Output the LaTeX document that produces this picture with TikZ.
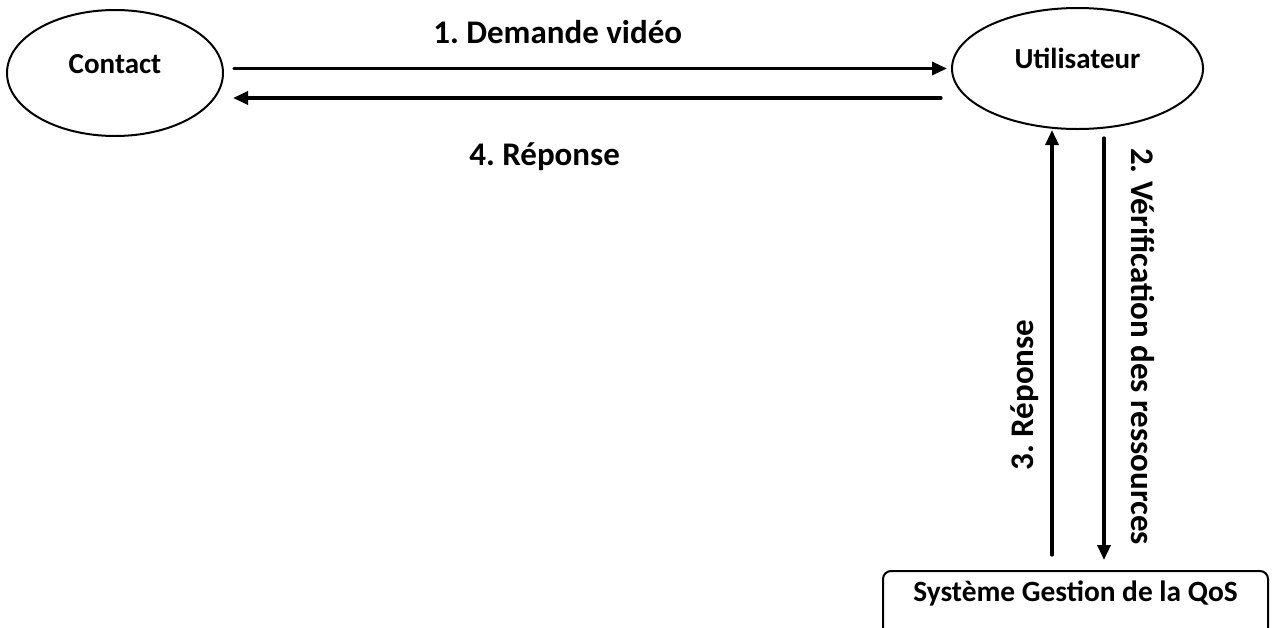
\documentclass[tikz,border=0pt]{standalone}
\usepackage{fontspec}
\setmainfont{Carlito}
\usetikzlibrary{arrows.meta,shapes.geometric}
\frenchspacing

\begin{document}
\begin{tikzpicture}
[x=0.5pt,y=-0.5pt,line cap=round,
% Styles
actor/.style={ellipse,draw,line width=1pt,font=\fontsize{14.5}{17}\selectfont\bfseries,
  text height=10pt,text depth=10pt},
system/.style={rectangle,rounded corners=4pt,draw,line width=1pt,
  font=\fontsize{14.7}{17}\selectfont\bfseries,text height=11pt,text depth=17pt,inner ysep=2pt},
flow/.style={line width=1.6pt,-{Triangle[length=7.5pt,width=6.5pt]}},
step label/.style={font=\fontsize{16.5}{19}\selectfont\bfseries,anchor=base,inner sep=0pt}]

% Frame
\useasboundingbox (0,0) rectangle (1273,627);

% The graphic
\node[actor,minimum width=108pt,minimum height=63pt] (contact) at (115,73) {Contact};
\node[actor,minimum width=125.5pt,minimum height=60.5pt] (util) at (1077.5,68.5) {Utilisateur};
\node[system,minimum width=192.5pt,minimum height=36pt,anchor=north] (qos) at (1075.5,570)
  {Système Gestion de la QoS};

\coordinate (down) at ([xshift=14.25pt]qos.north);
\coordinate (up) at ([xshift=-11.75pt]qos.north);
\coordinate (back) at ([yshift=-14.75pt]util.west);

\draw[flow,shorten <=5pt,shorten >=2pt] (contact.east |- util.west) -- (util.west)
  node[step label,pos=0.459,yshift=12.75pt] {1. Demande vidéo};
\draw[flow,shorten <=5pt,shorten >=4.5pt] (back) -- (contact.east |- back)
  node[step label,pos=0.559,yshift=-33.5pt] {4. Réponse};
\draw[flow,shorten <=4pt,shorten >=5pt] (down |- util.south) -- (down)
  node[step label,pos=0.492,xshift=13.5pt,rotate=-90] {2. Vérification des ressources};
\draw[flow,shorten <=7.5pt] (up) -- (up |- util.south)
  node[step label,pos=0.398,xshift=-9.5pt,rotate=90] {3. Réponse};
\end{tikzpicture}
\end{document}
